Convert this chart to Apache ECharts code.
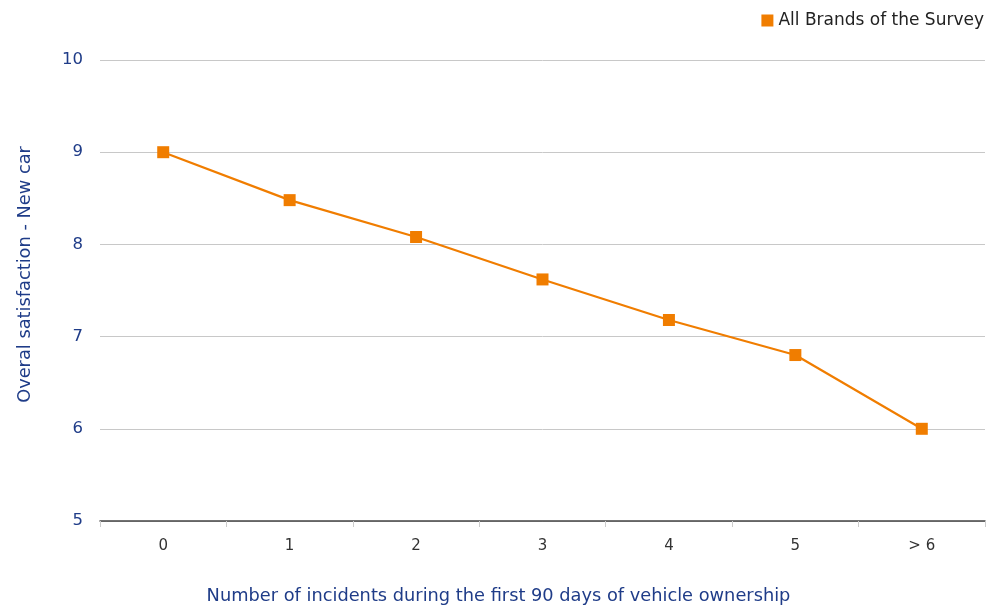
<!DOCTYPE html>
<html><head><meta charset="utf-8">
<script src="https://cdn.jsdelivr.net/npm/echarts@6/dist/echarts.min.js"></script>
<style>html,body{margin:0;padding:0;background:#fff}#c{width:986px;height:608px}</style>
</head><body><div id="c"></div>
<script>
const categories = ['0','1','2','3','4','5','> 6'];
const seriesName = 'All Brands of the Survey';
const values = [9.0, 8.48, 8.08, 7.62, 7.18, 6.8, 6.0];
const yMin = 5, yMax = 10, yInterval = 1;

const chart = echarts.init(document.getElementById('c'));
const font = 'DejaVu Sans';
chart.setOption({
  animation: false,
  grid: {left: 100, right: 1, top: 60, bottom: 87, outerBoundsMode: 'none', containLabel: false},
  legend: {
    right: -3, top: 7, itemWidth: 12, itemHeight: 12, itemGap: 4,
    icon: 'rect',
    textStyle: {fontFamily: font, fontSize: 17, color: '#222', padding: [0,0,0,0]},
    data: [seriesName]
  },
  xAxis: {
    type: 'category', data: categories, boundaryGap: true,
    axisLine: {lineStyle: {color: '#444', width: 1.5}},
    axisTick: {show: true, length: 6, lineStyle: {color: '#ccc'}},
    axisLabel: {fontFamily: font, fontSize: 15, color: '#333', margin: 18},
    name: 'Number of incidents during the first 90 days of vehicle ownership',
    nameLocation: 'middle', nameGap: 66,
    nameTextStyle: {fontFamily: font, fontSize: 17.8, color: '#1f3c88', padding: [0, 88, 0, 0]}
  },
  yAxis: {
    type: 'value', min: yMin, max: yMax, interval: yInterval,
    axisLine: {show: false}, axisTick: {show: false},
    splitLine: {lineStyle: {color: '#c8c8c8', width: 1}},
    axisLabel: {fontFamily: font, fontSize: 16.5, color: '#1f3c88', margin: 17},
    name: 'Overal satisfaction - New car',
    nameLocation: 'middle', nameGap: 66,
    nameTextStyle: {fontFamily: font, fontSize: 17.8, color: '#1f3c88', padding: [0, 0, 0, 32]}
  },
  series: [{
    name: seriesName, type: 'line', data: values,
    color: '#f07d00',
    symbol: 'rect', symbolSize: 12,
    lineStyle: {width: 2.2, color: '#f07d00'},
    itemStyle: {color: '#f07d00'}
  }]
});
</script></body></html>
